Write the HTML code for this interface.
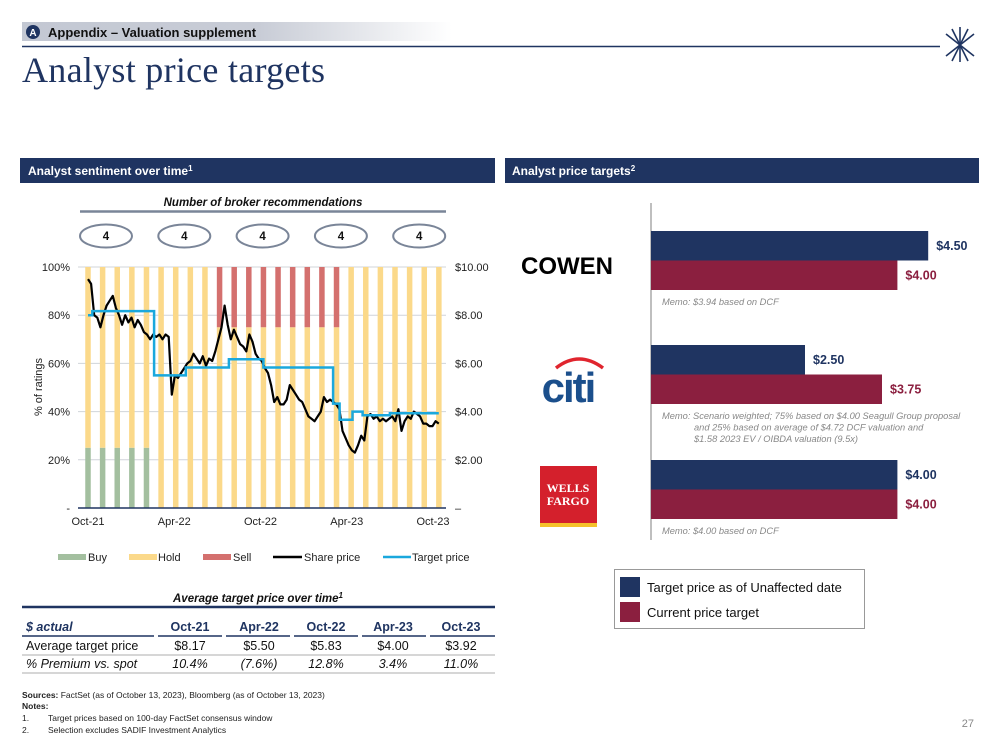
<!DOCTYPE html>
<html><head><meta charset="utf-8"><style>
body{margin:0;background:#fff;}
svg{display:block;font-family:"Liberation Sans",Arial,sans-serif;}
</style></head><body>
<svg id="s" width="999" height="750" viewBox="0 0 999 750" xmlns="http://www.w3.org/2000/svg">
<defs><linearGradient id="hg" x1="0" x2="1"><stop offset="0" stop-color="#c3c8d3"/><stop offset="0.55" stop-color="#c8ccd6"/><stop offset="1" stop-color="#ffffff"/></linearGradient></defs>
<g>
<rect x="22" y="22" width="430" height="19" fill="url(#hg)"/>
<circle cx="33" cy="32" r="7" fill="#1f3461"/>
<text x="33" y="36" font-size="10" font-weight="bold" fill="#fff" text-anchor="middle">A</text>
<text x="48" y="37" font-size="13" font-weight="bold" fill="#111">Appendix – Valuation supplement</text>
<line x1="22" y1="46.5" x2="940" y2="46.5" stroke="#1f3461" stroke-width="1.5"/>
<g stroke="#1f3461" stroke-width="1.6" fill="none">
<line x1="960" y1="27" x2="960" y2="62"/><line x1="952" y1="29" x2="968" y2="61"/><line x1="968" y1="29" x2="952" y2="61"/><line x1="946" y1="34" x2="974" y2="56"/><line x1="974" y1="34" x2="946" y2="56"/>
</g>
<text x="22" y="82" font-family="'Liberation Serif',serif" font-size="36" fill="#1f3461" textLength="303">Analyst price targets</text>
</g>

<rect x="20" y="158" width="475" height="25" fill="#1f3461"/>
<text x="28" y="175" font-size="12" font-weight="bold" fill="#fff">Analyst sentiment over time<tspan font-size="8" dy="-4">1</tspan></text>
<rect x="505" y="158" width="474" height="25" fill="#1f3461"/>
<text x="512" y="175" font-size="12" font-weight="bold" fill="#fff">Analyst price targets<tspan font-size="8" dy="-4">2</tspan></text>

<text x="263" y="206" font-size="11.5" font-weight="bold" font-style="italic" fill="#111" text-anchor="middle">Number of broker recommendations</text>
<line x1="80" y1="211.5" x2="446" y2="211.5" stroke="#7a8598" stroke-width="2.5"/>
<g id="ovals"></g>

<g id="chart"></g>

<g id="legend" font-size="11" fill="#222">
<rect x="58" y="554" width="28" height="6" fill="#a3bf9f"/><text x="88" y="561">Buy</text>
<rect x="129" y="554" width="28" height="6" fill="#fbd98a"/><text x="158" y="561">Hold</text>
<rect x="203" y="554" width="28" height="6" fill="#d4706e"/><text x="233" y="561">Sell</text>
<line x1="273" y1="557" x2="302" y2="557" stroke="#000" stroke-width="2.5"/><text x="304" y="561">Share price</text>
<line x1="383" y1="557" x2="411" y2="557" stroke="#1aa8dd" stroke-width="2.5"/><text x="412" y="561">Target price</text>
</g>

<g>
<text x="258" y="602" font-size="11.5" font-weight="bold" font-style="italic" fill="#111" text-anchor="middle">Average target price over time<tspan font-size="8" dy="-4">1</tspan></text>
<line x1="22" y1="607" x2="495" y2="607" stroke="#1f3461" stroke-width="2.5"/>
<g font-size="12.5" font-weight="bold" fill="#1f3461" text-anchor="middle">
<text x="26" y="631" text-anchor="start" font-style="italic">$ actual</text>
<text x="190" y="631">Oct-21</text><text x="259" y="631">Apr-22</text><text x="326" y="631">Oct-22</text><text x="393" y="631">Apr-23</text><text x="461" y="631">Oct-23</text>
</g>
<g stroke="#1f3461" stroke-width="1.5">
<line x1="22" y1="636" x2="154" y2="636"/><line x1="158" y1="636" x2="222" y2="636"/><line x1="226" y1="636" x2="290" y2="636"/><line x1="294" y1="636" x2="358" y2="636"/><line x1="362" y1="636" x2="426" y2="636"/><line x1="430" y1="636" x2="495" y2="636"/>
</g>
<g font-size="12.5" fill="#111" text-anchor="middle">
<text x="26" y="650" text-anchor="start">Average target price</text>
<text x="190" y="650">$8.17</text><text x="259" y="650">$5.50</text><text x="326" y="650">$5.83</text><text x="393" y="650">$4.00</text><text x="461" y="650">$3.92</text>
</g>
<line x1="22" y1="655" x2="495" y2="655" stroke="#c8c8c8" stroke-width="1.5"/>
<g font-size="12.5" fill="#111" text-anchor="middle" font-style="italic">
<text x="26" y="668" text-anchor="start">% Premium vs. spot</text>
<text x="190" y="668">10.4%</text><text x="259" y="668">(7.6%)</text><text x="326" y="668">12.8%</text><text x="393" y="668">3.4%</text><text x="461" y="668">11.0%</text>
</g>
<line x1="22" y1="673" x2="495" y2="673" stroke="#c8c8c8" stroke-width="1.5"/>
</g>

<g font-size="8.5" fill="#222">
<text x="22" y="698"><tspan font-weight="bold">Sources:</tspan> FactSet (as of October 13, 2023), Bloomberg (as of October 13, 2023)</text>
<text x="22" y="709" font-weight="bold">Notes:</text>
<text x="22" y="721">1.</text><text x="48" y="721">Target prices based on 100-day FactSet consensus window</text>
<text x="22" y="733">2.</text><text x="48" y="733">Selection excludes SADIF Investment Analytics</text>
</g>
<text x="974" y="727" font-size="11" fill="#888" text-anchor="end">27</text>

<g id="right"></g>

<g>
<text x="567" y="274" font-size="24" font-weight="bold" fill="#000" text-anchor="middle">COWEN</text>
<g>
<path d="M 556 368 Q 579 350 603 368" stroke="#e0252e" stroke-width="3.5" fill="none"/>
<text x="568" y="402" font-size="42" font-weight="bold" fill="#1b4f8c" text-anchor="middle" letter-spacing="-2">citi</text>
</g>
<g>
<rect x="540" y="466" width="57" height="57" fill="#d4202c"/><rect x="540" y="523" width="57" height="4" fill="#f5c22b"/>
<text x="568" y="492" font-family="'Liberation Serif',serif" font-size="12" font-weight="bold" fill="#fff" text-anchor="middle">WELLS</text>
<text x="568" y="505" font-family="'Liberation Serif',serif" font-size="12" font-weight="bold" fill="#fff" text-anchor="middle">FARGO</text>
</g>
</g>

<g>
<rect x="614.5" y="569.5" width="250" height="59" fill="#fff" stroke="#999"/>
<rect x="620" y="577" width="20" height="20" fill="#1f3461"/><text x="647" y="592" font-size="13" fill="#111">Target price as of Unaffected date</text>
<rect x="620" y="602" width="20" height="20" fill="#8b1f3f"/><text x="647" y="617" font-size="13" fill="#111">Current price target</text>
</g>
</svg>
<script>
// ---- Sentiment chart data ----
const barBuy  = [25,25,25,25,25,0,0,0,0,0,0,0,0,0,0,0,0,0,0,0,0,0,0,0,0];
const barHold = [75,75,75,75,75,100,100,100,100,75,75,75,75,75,75,75,75,75,100,100,100,100,100,100,100];
const barSell = [0,0,0,0,0,0,0,0,0,25,25,25,25,25,25,25,25,25,0,0,0,0,0,0,0];
const sharePrice = [9.5,9.3,8.0,7.9,7.5,8.0,8.4,8.6,8.8,8.3,8.0,7.6,8.0,7.7,7.9,7.5,7.8,7.6,7.3,7.2,7.0,7.2,7.1,7.2,7.0,7.2,7.1,4.7,5.5,5.4,5.6,5.8,6.0,6.1,6.4,6.2,6.0,6.3,5.9,6.2,6.1,6.5,7.0,7.5,8.4,7.6,7.0,7.4,7.1,6.8,6.7,6.5,7.2,6.9,6.4,6.2,6.1,5.8,5.6,5.1,4.4,4.6,4.3,4.3,4.5,5.1,4.9,4.7,4.5,4.4,4.1,3.8,3.7,3.6,3.8,4.0,4.6,4.4,4.5,4.4,4.3,4.1,3.2,2.9,2.6,2.4,2.3,2.6,3.0,2.8,3.8,3.9,3.7,3.8,3.6,3.7,3.6,3.7,3.8,3.6,4.1,3.2,3.6,3.8,3.7,4.0,3.9,3.8,3.5,3.5,3.4,3.4,3.6,3.5];
const priceEndMonth = 24.4;
const targetStart = [0,0.3,4.6,6.8,9.8,12.2,17.05,17.5,18.4,19.1,21];
const targetValue = [8.0,8.17,5.5,5.83,6.17,5.83,4.33,3.66,4.0,3.85,3.93];
const targetEndMonth = 24.4;
const xTickLabels = ["Oct-21","Apr-22","Oct-22","Apr-23","Oct-23"];
const xTickMonths = [0,6,12,18,24];
const yLeftTicks = [0,20,40,60,80,100];
const yLeftLabels = ["-","20%","40%","60%","80%","100%"];
const yRightTicks = [0,2,4,6,8,10];
const yRightLabels = ["–","$2.00","$4.00","$6.00","$8.00","$10.00"];
const brokerCounts = [4,4,4,4,4];

// ---- Price targets data ----
const brokers = ["Cowen","Citi","Wells Fargo"];
const unaffectedTarget = [4.50,2.50,4.00];
const currentTarget = [4.00,3.75,4.00];
const memos = [["Memo: $3.94 based on DCF"],["Memo: Scenario weighted; 75% based on $4.00 Seagull Group proposal","and 25% based on average of $4.72 DCF valuation and","$1.58 2023 EV / OIBDA valuation (9.5x)"],["Memo: $4.00 based on DCF"]];

const NS="http://www.w3.org/2000/svg";
function mk(tag,attrs,parent){const e=document.createElementNS(NS,tag);for(const k in attrs)e.setAttribute(k,attrs[k]);parent.appendChild(e);return e;}

const X0=88, X1=433, YT=267, YB=508;
const xM = m => X0 + (X1-X0)*m/24;
const yP = p => YB - (YB-YT)*p/100;
const yD = v => YB - (YB-YT)*v/10;

const ch=document.getElementById('chart');
yLeftTicks.forEach((t,i)=>{
  if(t>0){const g=mk('line',{x1:78,x2:446,y1:yP(t),y2:yP(t),stroke:'#d0d4da','stroke-width':1},ch);
  
  }
  const l=mk('text',{x:70,y:yP(t)+4,'font-size':11,fill:'#222','text-anchor':'end'},ch);l.textContent=yLeftLabels[i];
  
  
});
yRightTicks.forEach((t,i)=>{
  const l=mk('text',{x:455,y:yD(t)+4,'font-size':11,fill:'#222'},ch);l.textContent=yRightLabels[i];
  
  
});
const yt=mk('text',{x:42,y:387,'font-size':11,fill:'#222','text-anchor':'middle',transform:'rotate(-90 42 387)'},ch);yt.textContent='% of ratings';



const bw=5.5;
barBuy.forEach((b,i)=>{
  const x=xM(i*24/(barBuy.length-1)*1.017)-bw/2;
  let base=0;
  [[barBuy[i],'#a3bf9f','bar-buy'],[barHold[i],'#fbd98a','bar-hold'],[barSell[i],'#d4706e','bar-sell']].forEach(([v,c,n])=>{
    if(v>0){const r=mk('rect',{x:x,y:yP(base+v),width:bw,height:yP(base)-yP(base+v),fill:c},ch);
    
    }
    base+=v;
  });
});
const ax=mk('line',{x1:78,x2:446,y1:YB,y2:YB,stroke:'#1f3461','stroke-width':1.5},ch);


xTickLabels.forEach((t,i)=>{
  const l=mk('text',{x:xM(xTickMonths[i]),y:525,'font-size':11,fill:'#222','text-anchor':'middle'},ch);l.textContent=t;
  
  
});
let d='';
sharePrice.forEach((p,i)=>{const m=i*priceEndMonth/(sharePrice.length-1);d+=(i?'L':'M')+xM(m).toFixed(1)+' '+yD(p).toFixed(1)+' ';});
const sp=mk('path',{d:d,fill:'none',stroke:'#000','stroke-width':2.2,'stroke-linejoin':'round'},ch);


let td='';
targetStart.forEach((s,i)=>{
  const e=i<targetStart.length-1?targetStart[i+1]:targetEndMonth;
  td+=(i?'L':'M')+xM(s).toFixed(1)+' '+yD(targetValue[i]).toFixed(1)+' L'+xM(e).toFixed(1)+' '+yD(targetValue[i]).toFixed(1)+' ';
});
const tp=mk('path',{d:td,fill:'none',stroke:'#1aa8dd','stroke-width':2.5},ch);



const ov=document.getElementById('ovals');
brokerCounts.forEach((c,i)=>{
  const cx=106+i*78.3;
  const e=mk('ellipse',{cx:cx,cy:236,rx:26,ry:11.5,fill:'#fff',stroke:'#7a8598','stroke-width':2},ov);
  
  
  const t=mk('text',{x:cx,y:240,'font-size':11.5,'font-weight':'bold',fill:'#111','text-anchor':'middle'},ov);t.textContent=c;
  
  
});

const rg=document.getElementById('right');
const RX=651, SC=61.6;
const rowTop=[231,345,460], bh=29.5;
const va=mk('line',{x1:RX,x2:RX,y1:203,y2:540,stroke:'#aaa','stroke-width':1.5},rg);


brokers.forEach((b,i)=>{
  const y=rowTop[i];
  const r1=mk('rect',{x:RX,y:y,width:unaffectedTarget[i]*SC,height:bh,fill:'#1f3461'},rg);
  
  
  const r2=mk('rect',{x:RX,y:y+bh,width:currentTarget[i]*SC,height:bh,fill:'#8b1f3f'},rg);
  
  
  const t1=mk('text',{x:RX+unaffectedTarget[i]*SC+8,y:y+bh/2+4,'font-size':12.5,'font-weight':'bold',fill:'#1f3461'},rg);t1.textContent='$'+unaffectedTarget[i].toFixed(2);
  
  
  const t2=mk('text',{x:RX+currentTarget[i]*SC+8,y:y+bh*1.5+4,'font-size':12.5,'font-weight':'bold',fill:'#8b1f3f'},rg);t2.textContent='$'+currentTarget[i].toFixed(2);
  
  
  memos[i].forEach((m,j)=>{
    const t=mk('text',{x:j?694:662,y:y+bh*2+15+j*11.5,'font-size':9.3,'font-style':'italic',fill:'#888'},rg);t.textContent=m;
    
    
  });
});
</script>
</body></html>
